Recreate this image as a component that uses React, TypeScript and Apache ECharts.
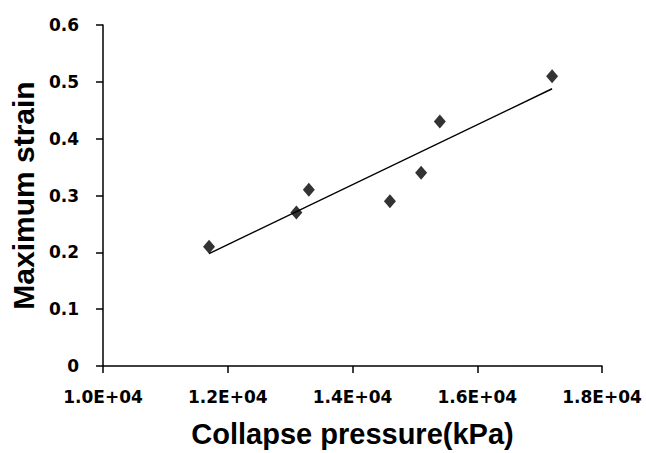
import React, { useEffect, useRef } from "react";
import * as echarts from "echarts";

const pressure = [11700, 13100, 13300, 14600, 15100, 15400, 17200];
const strain = [0.21, 0.27, 0.31, 0.29, 0.34, 0.43, 0.51];
const xTicks = [10000, 12000, 14000, 16000, 18000];
const yTicks = [0, 0.1, 0.2, 0.3, 0.4, 0.5, 0.6];
const xTitle = "Collapse pressure(kPa)";
const yTitle = "Maximum strain";

function fitLine(xs: number[], ys: number[]) {
  const n = xs.length;
  const mx = xs.reduce((a, b) => a + b, 0) / n;
  const my = ys.reduce((a, b) => a + b, 0) / n;
  let sxy = 0, sxx = 0;
  for (let i = 0; i < n; i++) {
    sxy += (xs[i] - mx) * (ys[i] - my);
    sxx += (xs[i] - mx) * (xs[i] - mx);
  }
  const k = sxy / sxx;
  const b = my - k * mx;
  const x0 = Math.min(...xs), x1 = Math.max(...xs);
  return [[x0, k * x0 + b], [x1, k * x1 + b]];
}

export default function App() {
  const ref = useRef<HTMLDivElement>(null);
  useEffect(() => {
    if (!ref.current) return;
    const chart = echarts.init(ref.current, undefined, { renderer: "svg" });
    const titleFont = "'Liberation Sans', Arial, sans-serif";
    const tickFont = "'DejaVu Sans', sans-serif";
    chart.setOption({
      animation: false,
      backgroundColor: "#ffffff",
      grid: { left: 101, right: 44, top: 25, bottom: 81, containLabel: false },
      xAxis: {
        type: "value",
        min: xTicks[0],
        max: xTicks[xTicks.length - 1],
        interval: 2000,
        name: xTitle,
        nameLocation: "middle",
        nameGap: 53,
        nameTextStyle: { fontFamily: titleFont, fontWeight: "bold", fontSize: 29, color: "#000" },
        axisLine: { show: true, onZero: false, lineStyle: { color: "#000", width: 1.5 } },
        axisTick: { show: true, length: 7, inside: false, lineStyle: { color: "#000", width: 1.5 } },
        splitLine: { show: false },
        axisLabel: {
          margin: 22,
          fontFamily: tickFont,
          fontWeight: "bold",
          fontSize: 17,
          color: "#000",
          formatter: (v: number) => (v / 10000).toFixed(1) + "E+04",
        },
      },
      yAxis: {
        type: "value",
        min: yTicks[0],
        max: yTicks[yTicks.length - 1],
        interval: 0.1,
        name: yTitle,
        nameLocation: "middle",
        nameGap: 64,
        nameTextStyle: { fontFamily: titleFont, fontWeight: "bold", fontSize: 30, color: "#000" },
        axisLine: { show: true, lineStyle: { color: "#000", width: 1.5 } },
        axisTick: { show: true, length: 7, inside: false, lineStyle: { color: "#000", width: 1.5 } },
        splitLine: { show: false },
        axisLabel: {
          margin: 24,
          fontFamily: tickFont,
          fontWeight: "bold",
          fontSize: 17,
          color: "#000",
          formatter: (v: number) => (Math.abs(v) < 1e-9 ? "0" : v.toFixed(1)),
        },
      },
      series: [
        {
          type: "line",
          data: fitLine(pressure, strain),
          symbol: "none",
          lineStyle: { color: "#000", width: 1.5 },
          silent: true,
          z: 1,
        },
        {
          type: "scatter",
          data: pressure.map((p, i) => [p, strain[i]]),
          symbol: "diamond",
          symbolSize: [12, 14],
          itemStyle: { color: "#000" },
          z: 2,
        },
      ],
    });
    return () => chart.dispose();
  }, []);
  return <div ref={ref} style={{ width: 646, height: 453, position: "absolute", left: 0, top: 0 }} />;
}
